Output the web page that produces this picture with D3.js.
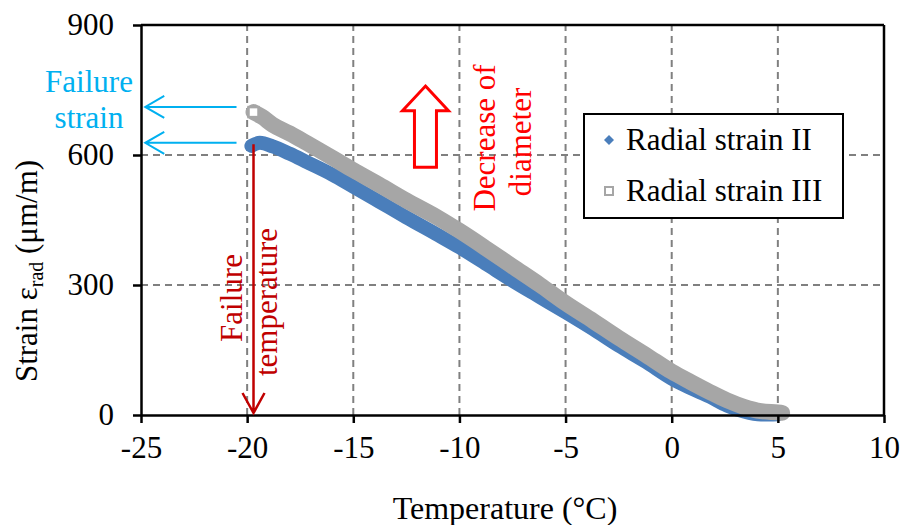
<!DOCTYPE html>
<html>
<head>
<meta charset="utf-8">
<script src="https://cdn.jsdelivr.net/npm/d3@7"></script>
<style>
	body{margin:0;background:#fff;}
</style>
</head>
<body>
<div id="chart"></div>
<script>
// data
const tempII   = [-19.8,-19.4,-18.8,-18,-17.2,-16,-15,-13.8,-12.5,-11,-10,-8.7,-7.5,-6.2,-5,-3.7,-2.5,-1.2,0,0.9,1.8,2.6,3.4,4.2,5.0];
const strainII = [621,628,620,603,584,555,527,493,456,415,387,347,310,272,237,198,160,122,84,62,42,22,8,1,2];
const tempIII   = [-19.7,-19.3,-18.8,-18,-17.2,-16,-15,-13.8,-12.5,-11,-10,-8.7,-7.5,-6.2,-5,-3.7,-2.5,-1.2,0,0.9,1.8,2.6,3.4,4.2,5.0,5.2];
const strainIII = [699,688,670,650,628,594,565,532,495,455,425,383,343,300,258,217,178,138,100,76,53,34,19,9,6,5];
const xTicks = [-25,-20,-15,-10,-5,0,5,10];
const yTicks = [0,300,600,900];
const seriesNames = ["Radial strain II","Radial strain III"];

const W = 904, H = 525,
	margin = {top:25, right:20, bottom:110, left:141},
	blue = "#4a7ebb",
	gray = "#a6a6a6",
	serif = "'Liberation Serif', 'DejaVu Serif', serif",
	fs = 31;

let svg = d3.select("#chart").append("svg").attr("width", W).attr("height", H)
	.attr("font-family", serif);

let x = d3.scaleLinear().domain([-25,10]).range([margin.left, 884]);
let y = d3.scaleLinear().domain([0,900]).range([415, margin.top]);

// grid
let grid = svg.append("g").attr("stroke", "#808080").attr("stroke-width", 2).attr("stroke-dasharray", "7,5");
xTicks.slice(1, -1).forEach(function(t){
	grid.append("line").attr("x1", x(t)).attr("x2", x(t)).attr("y1", y(0)).attr("y2", y(900));
});
yTicks.slice(1, -1).forEach(function(t){
	grid.append("line").attr("x1", x(-25)).attr("x2", x(10)).attr("y1", y(t)).attr("y2", y(t));
});

// frame top / right
svg.append("line").attr("x1", x(-25)).attr("x2", x(10)).attr("y1", y(900)).attr("y2", y(900)).attr("stroke", "#000").attr("stroke-width", 2.5);
svg.append("line").attr("x1", x(10)).attr("x2", x(10)).attr("y1", y(900)).attr("y2", y(0)).attr("stroke", "#000").attr("stroke-width", 2.5);

// series
let line = d3.line().x(d => x(d[0])).y(d => y(d[1])).curve(d3.curveMonotoneX);
let dII = tempII.map((t, i) => [t, strainII[i]]);
let dIII = tempIII.map((t, i) => [t, strainIII[i]]);

svg.append("path").datum(dII).attr("d", line).attr("fill", "none")
	.attr("stroke", blue).attr("stroke-width", 14).attr("stroke-linecap", "round").attr("stroke-linejoin", "round");
svg.append("path").datum(dIII).attr("d", line).attr("fill", "none")
	.attr("stroke", gray).attr("stroke-width", 16).attr("stroke-linecap", "round").attr("stroke-linejoin", "round");
// first marker of series III stays visible as a hollow square
svg.append("rect").attr("x", x(tempIII[0]) - 5).attr("y", y(strainIII[0]) - 5).attr("width", 10).attr("height", 10)
	.attr("fill", "#fff").attr("stroke", gray).attr("stroke-width", 2.5);

// axes
let xAxis = svg.append("g").attr("transform", "translate(0," + y(0) + ")")
	.call(d3.axisBottom(x).tickValues(xTicks).tickSize(8).tickSizeOuter(0).tickPadding(13));
let yAxis = svg.append("g").attr("transform", "translate(" + x(-25) + ",0)")
	.call(d3.axisLeft(y).tickValues(yTicks).tickSize(8).tickSizeOuter(0).tickPadding(19));
[xAxis, yAxis].forEach(function(a){
	a.attr("font-family", serif).attr("font-size", fs);
	a.select(".domain").attr("stroke", "#000").attr("stroke-width", 2.5);
	a.selectAll(".tick line").attr("stroke", "#000").attr("stroke-width", 2.5);
	a.selectAll("text").attr("fill", "#000");
});
xAxis.selectAll("text").text(d => d < 0 ? "-" + Math.abs(d) : d);

// axis titles
svg.append("text").attr("x", 505).attr("y", 519).attr("text-anchor", "middle").attr("font-size", 32)
	.text("Temperature (°C)");
let yt = svg.append("text").attr("transform", "translate(37,271) rotate(-90)").attr("text-anchor", "middle").attr("font-size", fs);
yt.append("tspan").text("Strain ε");
yt.append("tspan").attr("font-size", 20).attr("dy", 6).text("rad");
yt.append("tspan").attr("dy", -6).text(" (μm/m)");

// failure strain annotation
const cyan = "#00b0f0";
svg.append("text").attr("x", 89).attr("y", 92).attr("text-anchor", "middle").attr("font-size", fs).attr("fill", cyan).text("Failure");
svg.append("text").attr("x", 89).attr("y", 128).attr("text-anchor", "middle").attr("font-size", fs).attr("fill", cyan).text("strain");
[711, 628].forEach(function(s){
	let yy = y(s), x0 = x(-20.5), x1 = x(-24.8);
	svg.append("path").attr("d", "M" + x0 + "," + yy + "H" + x1 + "M" + (x1 + 19) + "," + (yy - 11) + "L" + x1 + "," + yy + "L" + (x1 + 19) + "," + (yy + 11))
		.attr("fill", "none").attr("stroke", cyan).attr("stroke-width", 2);
});

// failure temperature annotation
const darkRed = "#c00000";
{
	let xx = x(-19.7), y0 = y(625), y1 = y(0) - 2;
	svg.append("path").attr("d", "M" + xx + "," + y0 + "V" + y1 + "M" + (xx - 11) + "," + (y1 - 20) + "L" + xx + "," + y1 + "L" + (xx + 11) + "," + (y1 - 20))
		.attr("fill", "none").attr("stroke", darkRed).attr("stroke-width", 2.5);
}
svg.append("text").attr("transform", "translate(242,298) rotate(-90)").attr("text-anchor", "middle").attr("font-size", fs).attr("fill", darkRed).text("Failure");
svg.append("text").attr("transform", "translate(277,302) rotate(-90)").attr("text-anchor", "middle").attr("font-size", fs).attr("fill", darkRed).text("temperature");

// decrease of diameter annotation
const red = "#ff0000";
{
	let cx = x(-11.6), top = y(759), base = y(702), bot = y(572);
	svg.append("path").attr("d", "M" + cx + "," + top + "L" + (cx + 23) + "," + base + "H" + (cx + 11) + "V" + bot + "H" + (cx - 11) + "V" + base + "H" + (cx - 23) + "Z")
		.attr("fill", "#fff").attr("stroke", red).attr("stroke-width", 3);
}
svg.append("text").attr("transform", "translate(495,138) rotate(-90)").attr("text-anchor", "middle").attr("font-size", fs).attr("fill", red).text("Decrease of");
svg.append("text").attr("transform", "translate(531,142) rotate(-90)").attr("text-anchor", "middle").attr("font-size", fs).attr("fill", red).text("diameter");

// legend
let lg = svg.append("g");
lg.append("rect").attr("x", 584).attr("y", 114).attr("width", 259).attr("height", 104).attr("fill", "#fff").attr("stroke", "#000").attr("stroke-width", 2);
lg.append("path").attr("d", d3.symbol(d3.symbolSquare, 50)()).attr("transform", "translate(609,140) rotate(45)").attr("fill", blue);
lg.append("rect").attr("x", 605).attr("y", 187).attr("width", 8).attr("height", 8).attr("fill", "#fff").attr("stroke", gray).attr("stroke-width", 2);
seriesNames.forEach(function(n, i){
	lg.append("text").attr("x", 626).attr("y", 150 + i * 51).attr("font-size", fs).text(n);
});
</script>
</body>
</html>
